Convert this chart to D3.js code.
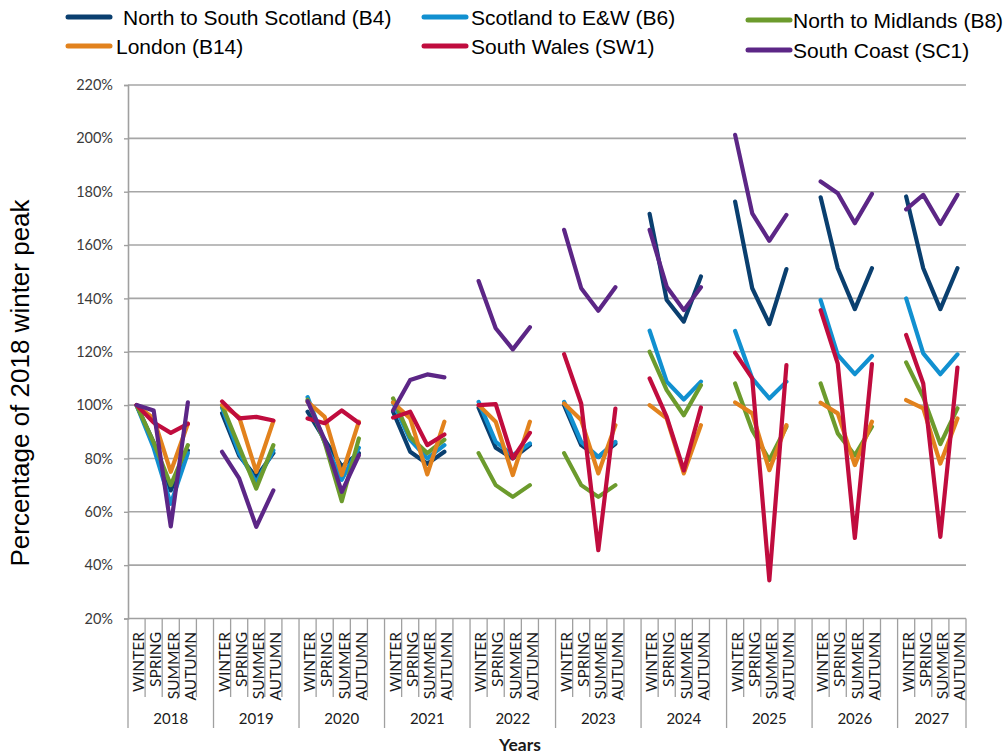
<!DOCTYPE html>
<html>
<head>
<meta charset="utf-8">
<script src="https://cdn.jsdelivr.net/npm/d3@7"></script>
<style>
  html, body { margin: 0; padding: 0; background: #ffffff; }
  svg { display: block; }
</style>
</head>
<body>
<svg id="chart" width="1003" height="756"></svg>
<script>
// Seasonal peak demand per boundary, as a percentage of the 2018 winter peak
const years = ["2018", "2019", "2020", "2021", "2022", "2023", "2024", "2025", "2026", "2027"];
const seasons = ["WINTER", "SPRING", "SUMMER", "AUTUMN"];
const yTicks = [20, 40, 60, 80, 100, 120, 140, 160, 180, 200, 220];

const seriesNames = [
  "North to South Scotland (B4)",
  "Scotland to E&W (B6)",
  "North to Midlands (B8)",
  "London (B14)",
  "South Wales (SW1)",
  "South Coast (SC1)"
];

// Four seasons per year, years in order
const b4 = [
  100, 86, 68, 83,   97, 81, 73, 82,   97.5, 87, 77, 82,   97.5, 82.5, 78, 82.5,
  99, 84, 80, 85,    100, 85, 80.5, 85.5,   171.7, 139.4, 131.3, 148.2,
  176.3, 143.8, 130.4, 151,   177.9, 151.3, 136, 151.3,   178.2, 151.3, 136, 151.3
];
const b6 = [
  100, 84, 63, 82,   99, 82, 71, 83,   103, 86, 72, 84,   101, 87, 80, 85,
  101.2, 86.2, 81.2, 85.6,   101.2, 86.2, 80.6, 86.2,   127.9, 108.8, 102.1, 108.8,
  127.8, 110, 102.5, 108.8,   139.4, 118.8, 111.6, 118.4,   140, 119.4, 111.6, 119
];
const b8 = [
  100, 86, 70, 85,   100, 84.4, 68.7, 85,   102, 86, 64, 87.5,   102.5, 88, 82, 87,
  82, 70, 65.6, 70,   82, 70, 65.6, 70,   120, 105.6, 96.2, 107.5,
  108.1, 90.6, 79.4, 91.9,   108.1, 89.4, 81.2, 91.9,   116, 103, 85.4, 98.8
];
const b14 = [
  100, 95, 75, 93,   100, 95.5, 75, 94,   101.2, 95.6, 73.8, 93.8,   101, 95, 74, 93.8,
  100, 93.8, 73.8, 93.8,   100.6, 94.4, 74.4, 92.5,   100, 95, 74.4, 92.5,
  101, 96.9, 75.6, 92.5,   100.9, 96.9, 77.5, 93.8,   101.9, 98.8, 78.1, 95
];
const sw1 = [
  100, 93.5, 89.6, 93,   101.4, 95, 95.6, 94.2,   95, 93.2, 98, 93.3,   95.3, 97.5, 85, 89,
  100, 100.4, 80, 89.6,   119.1, 100.6, 45.6, 98.7,   110, 95.6, 75.5, 99.1,
  119.6, 110, 34.3, 115,   135.6, 115.6, 50.2, 115.4,   126.3, 108.1, 50.6, 114.1
];
const sc1 = [
  100, 98, 54.5, 101,   82.5, 72.5, 54.4, 68,   101.5, 87, 67.5, 81.2,   98, 109.4, 111.5, 110.4,
  146.5, 128.8, 120.9, 129.2,   165.7, 143.8, 135.4, 144.2,   165.7, 144.4, 135.6, 144.2,
  201.3, 171.9, 161.6, 171.3,   183.8, 179.4, 168.2, 179.2,   173.4, 178.8, 167.9, 178.8
];

const seriesValues = [b4, b6, b8, b14, sw1, sc1];
const seriesColors = ["#0a3f6f", "#1190d0", "#6c9b2d", "#e2821d", "#c00c3e", "#5c2686"];

const svg = d3.select("#chart");
const plot = { left: 128, right: 966, top: 85, bottom: 618.5 };

// Category slots: four seasons per year, plus an empty slot between years
const slots = [];
years.forEach((yr, i) => {
  seasons.forEach(s => slots.push(yr + "|" + s));
  if (i < years.length - 1) slots.push(yr + "|gap");
});

const x = d3.scaleBand().domain(slots).range([plot.left, plot.right]).padding(0);
const y = d3.scaleLinear().domain([20, 220]).range([plot.bottom, plot.top]);

// Horizontal gridlines
svg.append("g")
  .selectAll("line")
  .data(yTicks.filter(t => t > 20))
  .join("line")
  .attr("x1", plot.left).attr("x2", plot.right)
  .attr("y1", d => y(d)).attr("y2", d => y(d))
  .attr("stroke", "#a6a6a6").attr("stroke-width", 1.6);

// Y axis
const yAxis = svg.append("g")
  .attr("transform", `translate(${plot.left},0)`)
  .call(d3.axisLeft(y).tickValues(yTicks).tickSize(4).tickPadding(11).tickFormat(d => d + "%"));
yAxis.select(".domain").attr("stroke", "#a0a0a0").attr("stroke-width", 1.6);
yAxis.selectAll(".tick line").attr("stroke", "#a0a0a0").attr("stroke-width", 1.4);
yAxis.selectAll(".tick text")
  .attr("font-family", "Lato, 'Open Sans', sans-serif")
  .attr("font-size", "14.5px")
  .attr("fill", "#3a3a3a");

// X axis baseline
svg.append("line")
  .attr("x1", plot.left).attr("x2", plot.right)
  .attr("y1", plot.bottom).attr("y2", plot.bottom)
  .attr("stroke", "#a0a0a0").attr("stroke-width", 1.6);

// Category separators (short) and year separators (long)
const xg = svg.append("g");
const yearStarts = years.map(yr => x(yr + "|WINTER"));
const boundaries = yearStarts.concat([plot.right]);
xg.selectAll("line.year")
  .data(boundaries)
  .join("line")
  .attr("class", "year")
  .attr("x1", d => d).attr("x2", d => d)
  .attr("y1", plot.bottom).attr("y2", 728)
  .attr("stroke", "#a0a0a0").attr("stroke-width", 1.3);

const innerSlots = slots.filter(k => {
  const right = x(k) + x.bandwidth();
  return !boundaries.some(b => Math.abs(b - right) < 0.5);
});
xg.selectAll("line.cat")
  .data(innerSlots)
  .join("line")
  .attr("class", "cat")
  .attr("x1", d => x(d) + x.bandwidth()).attr("x2", d => x(d) + x.bandwidth())
  .attr("y1", plot.bottom).attr("y2", 697)
  .attr("stroke", "#a0a0a0").attr("stroke-width", 1.3);

// Season labels, rotated
const seasonSlots = slots.filter(k => !k.endsWith("|gap"));
xg.selectAll("text.season")
  .data(seasonSlots)
  .join("text")
  .attr("class", "season")
  .attr("transform", d => `translate(${x(d) + x.bandwidth() - 0.8},632) rotate(-90)`)
  .attr("text-anchor", "end")
  .attr("font-family", "Lato, 'Open Sans', sans-serif")
  .attr("font-size", "15.5px")
  .attr("fill", "#1a1a1a")
  .text(d => d.split("|")[1]);

// Year labels
xg.selectAll("text.yr")
  .data(years)
  .join("text")
  .attr("class", "yr")
  .attr("x", (d, i) => (boundaries[i] + boundaries[i + 1]) / 2)
  .attr("y", 724)
  .attr("text-anchor", "middle")
  .attr("font-family", "Lato, 'Open Sans', sans-serif")
  .attr("font-size", "15px")
  .attr("fill", "#1a1a1a")
  .text(d => d);

// Axis titles
svg.append("text")
  .attr("x", 520).attr("y", 751)
  .attr("text-anchor", "middle")
  .attr("font-family", "Lato, 'Open Sans', sans-serif")
  .attr("font-weight", "bold")
  .attr("font-size", "17.5px")
  .attr("fill", "#1a1a1a")
  .text("Years");

svg.append("text")
  .attr("transform", "translate(29,383) rotate(-90)")
  .attr("text-anchor", "middle")
  .attr("font-family", "'Liberation Sans', Arial, sans-serif")
  .attr("font-size", "26px")
  .attr("fill", "#000")
  .text("Percentage of 2018 winter peak");

// Series lines, broken between years
const line = d3.line()
  .defined(d => d.v != null)
  .x(d => x(d.key) + x.bandwidth() / 2)
  .y(d => y(d.v));

function seriesPoints(values) {
  return slots.map(key => {
    const [yr, s] = key.split("|");
    if (s === "gap") return { key, v: null };
    const idx = years.indexOf(yr) * 4 + seasons.indexOf(s);
    return { key, v: values[idx] };
  });
}

svg.append("g")
  .selectAll("path")
  .data(seriesValues)
  .join("path")
  .attr("d", d => line(seriesPoints(d)))
  .attr("fill", "none")
  .attr("stroke", (d, i) => seriesColors[i])
  .attr("stroke-width", 4.2)
  .attr("stroke-linejoin", "round")
  .attr("stroke-linecap", "round");

// Legend
const legendPos = [
  { lx: 68, tx: 123, y: 17 },
  { lx: 424, tx: 471, y: 17 },
  { lx: 748, tx: 793, y: 20 },
  { lx: 68, tx: 116, y: 46 },
  { lx: 424, tx: 471, y: 46 },
  { lx: 748, tx: 793, y: 50 }
];
const lg = svg.append("g");
seriesNames.forEach((name, i) => {
  const p = legendPos[i];
  lg.append("line")
    .attr("x1", p.lx).attr("x2", p.lx + 42)
    .attr("y1", p.y).attr("y2", p.y)
    .attr("stroke", seriesColors[i]).attr("stroke-width", 5)
    .attr("stroke-linecap", "round");
  lg.append("text")
    .attr("x", p.tx).attr("y", p.y)
    .attr("dy", "0.36em")
    .attr("font-family", "'Liberation Sans', Arial, sans-serif")
    .attr("font-size", "21px")
    .attr("fill", "#000")
    .text(name);
});
</script>
</body>
</html>
